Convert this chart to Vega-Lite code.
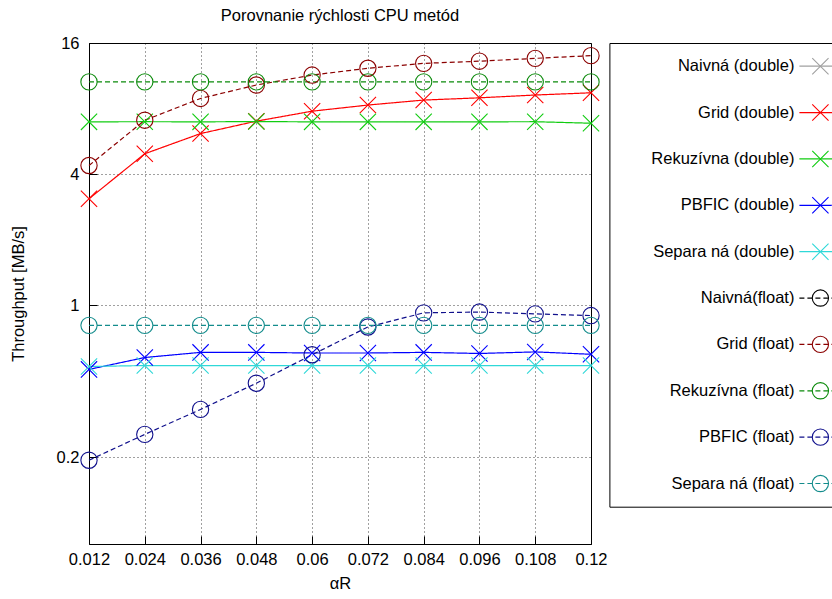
{
  "$schema": "https://vega.github.io/schema/vega-lite/v6.json",
  "autosize": {"type": "pad"},
  "padding": {"left": 10, "top": 7, "right": 0, "bottom": 5},
  "bounds": "flush",
  "spacing": 18.4,
  "background": "white",
  "config": {
    "font": "Liberation Sans",
    "view": {"stroke": "#000", "strokeWidth": 1},
    "axis": {
      "labelFont": "Liberation Sans", "labelFontSize": 16.5, "labelColor": "#000",
      "titleFont": "Liberation Sans", "titleFontSize": 16.5, "titleFontWeight": "normal", "titleColor": "#000",
      "domain": false, "tickColor": "#000", "tickSize": -8,
      "gridColor": "#000", "gridDash": [1, 3], "gridOpacity": 0.75, "gridWidth": 1
    },
    "title": {"font": "Liberation Sans", "fontSize": 16.5, "fontWeight": "normal", "color": "#000"}
  },
  "datasets": {
    "pts": [
      {"s": "Grid (double)", "x": 0.012, "y": 3.08}, {"s": "Grid (double)", "x": 0.024, "y": 4.96}, {"s": "Grid (double)", "x": 0.036, "y": 6.14}, {"s": "Grid (double)", "x": 0.048, "y": 7.0}, {"s": "Grid (double)", "x": 0.06, "y": 7.78},
      {"s": "Grid (double)", "x": 0.072, "y": 8.3}, {"s": "Grid (double)", "x": 0.084, "y": 8.75}, {"s": "Grid (double)", "x": 0.096, "y": 8.96}, {"s": "Grid (double)", "x": 0.108, "y": 9.23}, {"s": "Grid (double)", "x": 0.12, "y": 9.45},
      {"s": "Rekuzívna (double)", "x": 0.012, "y": 6.95}, {"s": "Rekuzívna (double)", "x": 0.024, "y": 6.96}, {"s": "Rekuzívna (double)", "x": 0.036, "y": 6.95}, {"s": "Rekuzívna (double)", "x": 0.048, "y": 6.97}, {"s": "Rekuzívna (double)", "x": 0.06, "y": 6.95},
      {"s": "Rekuzívna (double)", "x": 0.072, "y": 6.95}, {"s": "Rekuzívna (double)", "x": 0.084, "y": 6.95}, {"s": "Rekuzívna (double)", "x": 0.096, "y": 6.95}, {"s": "Rekuzívna (double)", "x": 0.108, "y": 6.96}, {"s": "Rekuzívna (double)", "x": 0.12, "y": 6.85},
      {"s": "PBFIC (double)", "x": 0.012, "y": 0.507}, {"s": "PBFIC (double)", "x": 0.024, "y": 0.575}, {"s": "PBFIC (double)", "x": 0.036, "y": 0.607}, {"s": "PBFIC (double)", "x": 0.048, "y": 0.607}, {"s": "PBFIC (double)", "x": 0.06, "y": 0.603},
      {"s": "PBFIC (double)", "x": 0.072, "y": 0.603}, {"s": "PBFIC (double)", "x": 0.084, "y": 0.607}, {"s": "PBFIC (double)", "x": 0.096, "y": 0.6}, {"s": "PBFIC (double)", "x": 0.108, "y": 0.61}, {"s": "PBFIC (double)", "x": 0.12, "y": 0.595},
      {"s": "Separa ná (double)", "x": 0.012, "y": 0.523}, {"s": "Separa ná (double)", "x": 0.024, "y": 0.528}, {"s": "Separa ná (double)", "x": 0.036, "y": 0.528}, {"s": "Separa ná (double)", "x": 0.048, "y": 0.528}, {"s": "Separa ná (double)", "x": 0.06, "y": 0.528},
      {"s": "Separa ná (double)", "x": 0.072, "y": 0.528}, {"s": "Separa ná (double)", "x": 0.084, "y": 0.528}, {"s": "Separa ná (double)", "x": 0.096, "y": 0.528}, {"s": "Separa ná (double)", "x": 0.108, "y": 0.528}, {"s": "Separa ná (double)", "x": 0.12, "y": 0.528},
      {"s": "Grid (float)", "x": 0.012, "y": 4.38}, {"s": "Grid (float)", "x": 0.024, "y": 7.07}, {"s": "Grid (float)", "x": 0.036, "y": 8.9}, {"s": "Grid (float)", "x": 0.048, "y": 10.26}, {"s": "Grid (float)", "x": 0.06, "y": 11.4},
      {"s": "Grid (float)", "x": 0.072, "y": 12.25}, {"s": "Grid (float)", "x": 0.084, "y": 12.9}, {"s": "Grid (float)", "x": 0.096, "y": 13.2}, {"s": "Grid (float)", "x": 0.108, "y": 13.6}, {"s": "Grid (float)", "x": 0.12, "y": 14.0},
      {"s": "Rekuzívna (float)", "x": 0.012, "y": 10.6}, {"s": "Rekuzívna (float)", "x": 0.024, "y": 10.6}, {"s": "Rekuzívna (float)", "x": 0.036, "y": 10.6}, {"s": "Rekuzívna (float)", "x": 0.048, "y": 10.6}, {"s": "Rekuzívna (float)", "x": 0.06, "y": 10.6},
      {"s": "Rekuzívna (float)", "x": 0.072, "y": 10.6}, {"s": "Rekuzívna (float)", "x": 0.084, "y": 10.6}, {"s": "Rekuzívna (float)", "x": 0.096, "y": 10.6}, {"s": "Rekuzívna (float)", "x": 0.108, "y": 10.6}, {"s": "Rekuzívna (float)", "x": 0.12, "y": 10.6},
      {"s": "PBFIC (float)", "x": 0.012, "y": 0.194}, {"s": "PBFIC (float)", "x": 0.024, "y": 0.255}, {"s": "PBFIC (float)", "x": 0.036, "y": 0.332}, {"s": "PBFIC (float)", "x": 0.048, "y": 0.438}, {"s": "PBFIC (float)", "x": 0.06, "y": 0.592},
      {"s": "PBFIC (float)", "x": 0.072, "y": 0.794}, {"s": "PBFIC (float)", "x": 0.084, "y": 0.922}, {"s": "PBFIC (float)", "x": 0.096, "y": 0.93}, {"s": "PBFIC (float)", "x": 0.108, "y": 0.912}, {"s": "PBFIC (float)", "x": 0.12, "y": 0.896},
      {"s": "Separa ná (float)", "x": 0.012, "y": 0.808}, {"s": "Separa ná (float)", "x": 0.024, "y": 0.808}, {"s": "Separa ná (float)", "x": 0.036, "y": 0.808}, {"s": "Separa ná (float)", "x": 0.048, "y": 0.808}, {"s": "Separa ná (float)", "x": 0.06, "y": 0.808},
      {"s": "Separa ná (float)", "x": 0.072, "y": 0.808}, {"s": "Separa ná (float)", "x": 0.084, "y": 0.808}, {"s": "Separa ná (float)", "x": 0.096, "y": 0.808}, {"s": "Separa ná (float)", "x": 0.108, "y": 0.808}, {"s": "Separa ná (float)", "x": 0.12, "y": 0.808}
    ],
    "leg": [
      {"s": "Naivná (double)"}, {"s": "Grid (double)"}, {"s": "Rekuzívna (double)"}, {"s": "PBFIC (double)"}, {"s": "Separa ná (double)"},
      {"s": "Naivná(float)"}, {"s": "Grid (float)"}, {"s": "Rekuzívna (float)"}, {"s": "PBFIC (float)"}, {"s": "Separa ná (float)"}
    ]
  },
  "hconcat": [
    {
      "width": 502,
      "height": 501,
      "title": {"text": "Porovnanie rýchlosti CPU metód", "anchor": "middle", "offset": 11},
      "data": {"name": "pts"},
      "encoding": {
        "x": {"field": "x", "type": "quantitative", "title": "αR",
              "scale": {"domain": [0.012, 0.12], "nice": false, "zero": false},
              "axis": {"values": [0.012, 0.024, 0.036, 0.048, 0.06, 0.072, 0.084, 0.096, 0.108, 0.12], "format": ".3~g", "labelPadding": 15, "titlePadding": 8, "labelFlush": false}},
        "y": {"field": "y", "type": "quantitative", "title": "Throughput [MB/s]",
              "scale": {"type": "log", "base": 2, "domain": [0.08, 16], "nice": false},
              "axis": {"values": [0.2, 1, 4, 16], "format": ".3~g", "labelPadding": 18, "titlePadding": 29.5, "labelFlush": false}},
        "color": {"field": "s", "type": "nominal", "legend": null,
                  "scale": {"domain": ["Naivná (double)", "Grid (double)", "Rekuzívna (double)", "PBFIC (double)", "Separa ná (double)", "Naivná(float)", "Grid (float)", "Rekuzívna (float)", "PBFIC (float)", "Separa ná (float)"],
                            "range": ["#a0a0a0", "#ff0000", "#11cc11", "#0000ff", "#2fd8d8", "#000000", "#8b0000", "#0b8a0b", "#10108c", "#138c8c"]}}
      },
      "layer": [
        {
          "mark": {"type": "line", "strokeWidth": 1.2},
          "encoding": {
            "strokeDash": {"field": "s", "type": "nominal", "legend": null,
                           "scale": {"domain": ["Naivná (double)", "Grid (double)", "Rekuzívna (double)", "PBFIC (double)", "Separa ná (double)", "Naivná(float)", "Grid (float)", "Rekuzívna (float)", "PBFIC (float)", "Separa ná (float)"],
                                     "range": [[1, 0], [1, 0], [1, 0], [1, 0], [1, 0], [5, 3], [5, 3], [5, 3], [5, 3], [5, 3]]}}
          }
        },
        {
          "mark": {"type": "point", "filled": false, "strokeWidth": 1.1, "opacity": 1, "size": 265},
          "encoding": {
            "shape": {"field": "s", "type": "nominal", "legend": null,
                      "scale": {"domain": ["Naivná (double)", "Grid (double)", "Rekuzívna (double)", "PBFIC (double)", "Separa ná (double)", "Naivná(float)", "Grid (float)", "Rekuzívna (float)", "PBFIC (float)", "Separa ná (float)"],
                                "range": ["M-1,-1L1,1M-1,1L1,-1", "M-1,-1L1,1M-1,1L1,-1", "M-1,-1L1,1M-1,1L1,-1", "M-1,-1L1,1M-1,1L1,-1", "M-1,-1L1,1M-1,1L1,-1", "circle", "circle", "circle", "circle", "circle"]}}
          }
        }
      ]
    },
    {
      "width": 240,
      "height": 463.7,
      "data": {"name": "leg"},
      "encoding": {
        "y": {"field": "s", "type": "nominal", "axis": null,
              "scale": {"type": "point", "padding": 0.5, "domain": ["Naivná (double)", "Grid (double)", "Rekuzívna (double)", "PBFIC (double)", "Separa ná (double)", "Naivná(float)", "Grid (float)", "Rekuzívna (float)", "PBFIC (float)", "Separa ná (float)"]}},
        "color": {"field": "s", "type": "nominal", "legend": null,
                  "scale": {"domain": ["Naivná (double)", "Grid (double)", "Rekuzívna (double)", "PBFIC (double)", "Separa ná (double)", "Naivná(float)", "Grid (float)", "Rekuzívna (float)", "PBFIC (float)", "Separa ná (float)"],
                            "range": ["#a0a0a0", "#ff0000", "#11cc11", "#0000ff", "#2fd8d8", "#000000", "#8b0000", "#0b8a0b", "#10108c", "#138c8c"]}}
      },
      "layer": [
        {
          "mark": {"type": "rule", "strokeWidth": 1.2},
          "encoding": {
            "x": {"datum": 190, "type": "quantitative", "axis": null, "scale": {"domain": [0, 240], "range": [0, 240], "nice": false, "zero": true}},
            "x2": {"datum": 232},
            "strokeDash": {"field": "s", "type": "nominal", "legend": null,
                           "scale": {"domain": ["Naivná (double)", "Grid (double)", "Rekuzívna (double)", "PBFIC (double)", "Separa ná (double)", "Naivná(float)", "Grid (float)", "Rekuzívna (float)", "PBFIC (float)", "Separa ná (float)"],
                                     "range": [[1, 0], [1, 0], [1, 0], [1, 0], [1, 0], [4, 3], [4, 3], [4, 3], [4, 3], [4, 3]]}}
          }
        },
        {
          "mark": {"type": "point", "filled": false, "strokeWidth": 1.1, "opacity": 1, "size": 265},
          "encoding": {
            "x": {"datum": 211, "type": "quantitative"},
            "shape": {"field": "s", "type": "nominal", "legend": null,
                      "scale": {"domain": ["Naivná (double)", "Grid (double)", "Rekuzívna (double)", "PBFIC (double)", "Separa ná (double)", "Naivná(float)", "Grid (float)", "Rekuzívna (float)", "PBFIC (float)", "Separa ná (float)"],
                                "range": ["M-1,-1L1,1M-1,1L1,-1", "M-1,-1L1,1M-1,1L1,-1", "M-1,-1L1,1M-1,1L1,-1", "M-1,-1L1,1M-1,1L1,-1", "M-1,-1L1,1M-1,1L1,-1", "circle", "circle", "circle", "circle", "circle"]}}
          }
        },
        {
          "mark": {"type": "text", "align": "right", "baseline": "middle", "fontSize": 16.5, "font": "Liberation Sans", "color": "#000"},
          "encoding": {
            "x": {"datum": 185, "type": "quantitative"},
            "text": {"field": "s", "type": "nominal"},
            "color": {"value": "#000"}
          }
        }
      ]
    }
  ]
}
